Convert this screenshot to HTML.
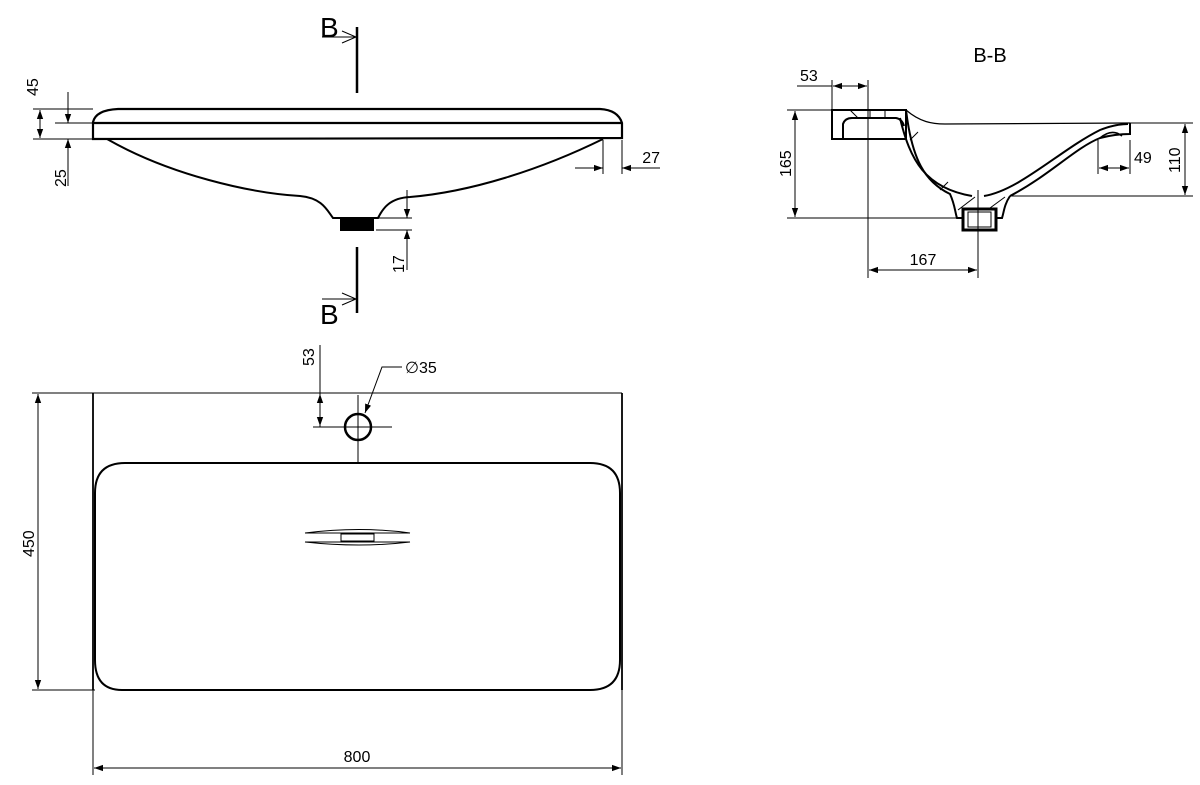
<!DOCTYPE html>
<html><head><meta charset="utf-8"><style>
html,body{margin:0;padding:0;background:#fff;}
svg{display:block}
text{font-family:"Liberation Sans",sans-serif;font-size:16px;fill:#000}
</style></head><body>
<svg width="1200" height="785" viewBox="0 0 1200 785" xmlns="http://www.w3.org/2000/svg">
<defs>
<marker id="a" viewBox="0 0 10 10" refX="10" refY="5" markerWidth="9" markerHeight="9" orient="auto-start-reverse" markerUnits="userSpaceOnUse"><path d="M0,1.5 L10,5 L0,8.5 Z" fill="#000"/></marker>
</defs>
<g fill="none" stroke="#000">
<path d="M93,139 L93,122 Q96,110 118,109 L600,109 Q618,110 622,123 L622,138 Z" stroke-width="2.2"/>
<line x1="93" y1="123" x2="622" y2="123" stroke-width="2.2"/>
<path d="M107,139 C170,175 250,193 300,196 C322,198 327,210 333,218 L378,218 C383,208 390,198 410,197 C470,192 540,170 603,139" stroke-width="2"/>
<rect x="340" y="219" width="34" height="12" fill="#000" stroke="none"/>
<line x1="357" y1="27" x2="357" y2="93" stroke-width="2.5"/>
<line x1="357" y1="247" x2="357" y2="313" stroke-width="2.5"/>
<path d="M322,37 L356,37 M342,31 L356,37 L342,43" stroke-width="1"/>
<path d="M322,299 L356,299 M342,293 L356,299 L342,305" stroke-width="1"/>
<g stroke-width="1">
<line x1="33" y1="109" x2="93" y2="109"/>
<line x1="33" y1="139" x2="93" y2="139"/>
<line x1="55" y1="123" x2="93" y2="123"/>
<line x1="40" y1="110" x2="40" y2="138" marker-start="url(#a)" marker-end="url(#a)"/>
<line x1="68" y1="92" x2="68" y2="123" marker-end="url(#a)"/>
<line x1="68" y1="186" x2="68" y2="139" marker-end="url(#a)"/>
<line x1="603" y1="140" x2="603" y2="174"/>
<line x1="622" y1="140" x2="622" y2="174"/>
<line x1="575" y1="168" x2="603" y2="168" marker-end="url(#a)"/>
<line x1="660" y1="168" x2="622" y2="168" marker-end="url(#a)"/>
<line x1="378" y1="218" x2="412" y2="218"/>
<line x1="376" y1="230" x2="412" y2="230"/>
<line x1="407" y1="190" x2="407" y2="218" marker-end="url(#a)"/>
<line x1="407" y1="270" x2="407" y2="230" marker-end="url(#a)"/>
</g>
</g>
<text x="660" y="163" text-anchor="end">27</text>
<text transform="translate(38,96) rotate(-90)">45</text>
<text transform="translate(66,187) rotate(-90)">25</text>
<text transform="translate(404,273) rotate(-90)">17</text>
<text x="320" y="37" style="font-size:28px">B</text>
<text x="320" y="324" style="font-size:28px">B</text>

<g fill="none" stroke="#000">
<line x1="93" y1="393" x2="93" y2="690" stroke-width="1.8"/>
<line x1="622" y1="393" x2="622" y2="690" stroke-width="1.8"/>
<path d="M125,463 L590,463 Q620,463 620,493 L620,660 Q620,690 590,690 L122,690 Q95,690 95,660 L95,493 Q95,463 125,463 Z" stroke-width="2"/>
<circle cx="358" cy="427" r="13" stroke-width="2.5"/>
<g stroke-width="1">
<line x1="313" y1="427" x2="392" y2="427"/>
<line x1="358" y1="395" x2="358" y2="462"/>
<line x1="353" y1="427" x2="363" y2="427"/>
<line x1="32" y1="393" x2="622" y2="393"/>
<line x1="32" y1="690" x2="95" y2="690"/>
<line x1="38" y1="394" x2="38" y2="689" marker-start="url(#a)" marker-end="url(#a)"/>
<line x1="93" y1="690" x2="93" y2="775"/>
<line x1="622" y1="690" x2="622" y2="775"/>
<line x1="94" y1="768" x2="621" y2="768" marker-start="url(#a)" marker-end="url(#a)"/>
<line x1="320" y1="345" x2="320" y2="427"/>
<line x1="320" y1="394" x2="320" y2="426" marker-start="url(#a)" marker-end="url(#a)"/>
<path d="M402,367 L382,367 L365,413" marker-end="url(#a)"/>
<path d="M305,533 Q360,526 410,533 M305,542 Q360,548 410,542 M305,533 L410,533 M305,542 L410,542"/>
<rect x="341" y="534" width="33" height="7"/>
</g>
</g>
<text x="357" y="762" text-anchor="middle">800</text>
<text transform="translate(34,557) rotate(-90)">450</text>
<text transform="translate(314,366) rotate(-90)">53</text>
<text x="405" y="373">∅35</text>

<text x="990" y="62" text-anchor="middle" style="font-size:20px">B-B</text>
<g fill="none" stroke="#000">
<path d="M832,110 L906,110 L906,139 L832,139 Z" stroke-width="2"/>
<path d="M843,139 L843,124 Q845,118 852,118 L896,118 Q902,119 904,126" stroke-width="2"/>
<path d="M906,110 C912,160 925,182 950,194 C955,205 955,212 957,218 L962,218" stroke-width="2"/>
<path d="M900,118 C910,160 925,188 972,196" stroke-width="2"/>
<path d="M906,110 C920,122 932,124 945,124 L1130,123" stroke-width="1.2"/>
<path d="M984,196 C1020,190 1060,150 1100,130 Q1115,124 1128,124" stroke-width="2"/>
<path d="M1010,196 C1050,175 1075,148 1100,138 Q1115,134 1130,134 L1130,123" stroke-width="2"/>
<path d="M1010,196 C1004,205 1004,212 1002,218 L996,218" stroke-width="2"/>
<path d="M1100,138 Q1112,128 1122,136" stroke-width="1.5"/>
<rect x="963" y="209" width="33" height="21" stroke-width="3"/>
<rect x="968" y="212" width="23" height="15" stroke-width="1"/>
<g stroke-width="1">
<line x1="850" y1="110" x2="858" y2="118"/><line x1="870" y1="110" x2="870" y2="118"/><line x1="885" y1="110" x2="885" y2="118"/>
<line x1="910" y1="140" x2="918" y2="132"/><line x1="940" y1="190" x2="948" y2="182"/>
<line x1="958" y1="210" x2="975" y2="197"/><line x1="990" y1="208" x2="1005" y2="197"/>
<line x1="868" y1="80" x2="868" y2="278"/>
<line x1="978" y1="190" x2="978" y2="278"/>
<line x1="832" y1="80" x2="832" y2="110"/>
<line x1="797" y1="86" x2="832" y2="86"/>
<line x1="833" y1="86" x2="867" y2="86" marker-start="url(#a)" marker-end="url(#a)"/>
<line x1="787" y1="110" x2="832" y2="110"/>
<line x1="787" y1="218" x2="960" y2="218"/>
<line x1="795" y1="111" x2="795" y2="217" marker-start="url(#a)" marker-end="url(#a)"/>
<line x1="869" y1="270" x2="977" y2="270" marker-start="url(#a)" marker-end="url(#a)"/>
<line x1="1130" y1="123" x2="1193" y2="123"/>
<line x1="1010" y1="196" x2="1193" y2="196"/>
<line x1="1185" y1="124" x2="1185" y2="195" marker-start="url(#a)" marker-end="url(#a)"/>
<line x1="1098" y1="140" x2="1098" y2="174"/>
<line x1="1130" y1="140" x2="1130" y2="174"/>
<line x1="1099" y1="168" x2="1129" y2="168" marker-start="url(#a)" marker-end="url(#a)"/>
</g>
</g>
<text x="800" y="81">53</text>
<text transform="translate(791,177) rotate(-90)">165</text>
<text x="923" y="265" text-anchor="middle">167</text>
<text x="1134" y="163">49</text>
<text transform="translate(1180,173) rotate(-90)">110</text>
</svg>
</body></html>
